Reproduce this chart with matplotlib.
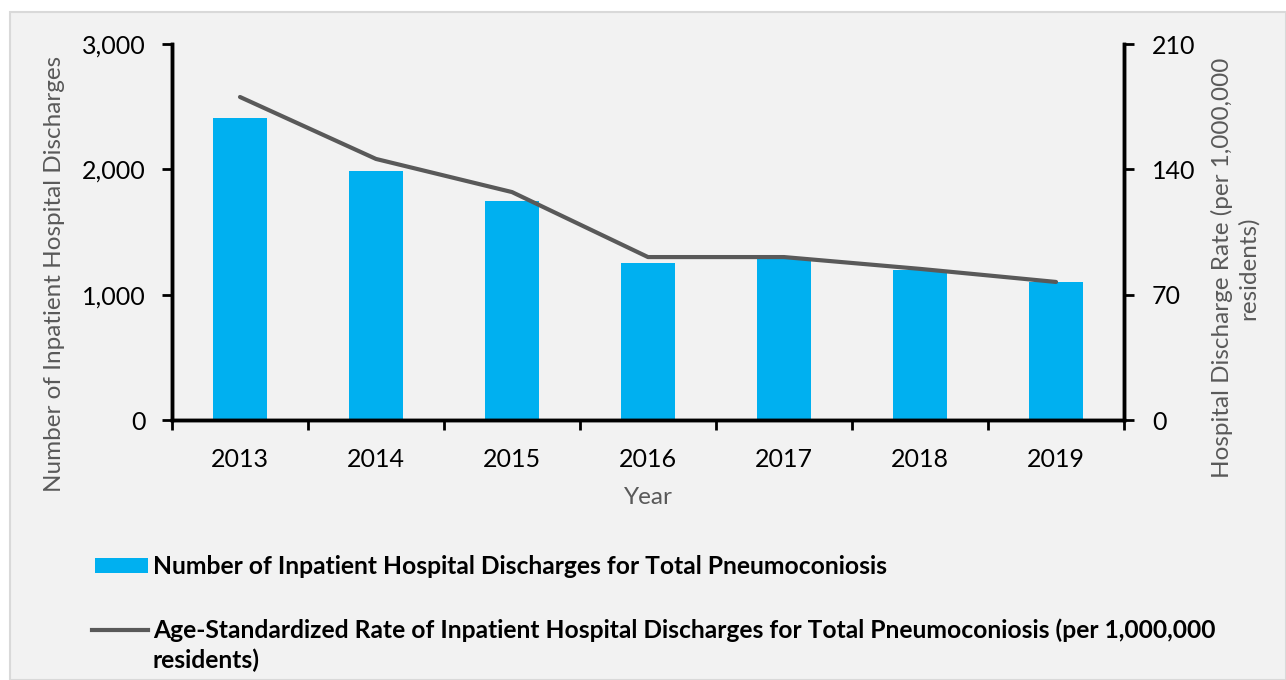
import matplotlib.pyplot as plt
from matplotlib.patches import Rectangle
from matplotlib.lines import Line2D
from matplotlib.ticker import FuncFormatter

plt.rcParams['font.family'] = ['Lato', 'DejaVu Sans']

# data
years = ['2013', '2014', '2015', '2016', '2017', '2018', '2019']
discharges = [2410, 1987, 1747, 1253, 1293, 1197, 1101]
rate = [180.4, 145.8, 127.3, 91.0, 91.0, 84.4, 77.1]

bar_color = '#00B0F0'
line_color = '#595959'
gray_txt = '#595959'

fig = plt.figure(figsize=(12.86, 6.8), dpi=100)
fig.patch.set_facecolor('white')
# light gray panel like the excel chart area
fig.patches.append(Rectangle((10 / 1286, 0), 1 - 10 / 1286, (680 - 12) / 680,
                             transform=fig.transFigure, facecolor='#f2f2f2',
                             edgecolor='#d9d9d9', linewidth=1.5, zorder=-10))

ax = fig.add_axes([172 / 1286, (680 - 420) / 680, (1124 - 172) / 1286, 376 / 680])
ax.set_facecolor('none')
ax2 = ax.twinx()

x = list(range(len(years)))
ax.bar(x, discharges, width=0.4, color=bar_color, zorder=2)
ax2.plot(x, rate, color=line_color, linewidth=3, solid_capstyle='round')

ax.set_xlim(-0.5, len(years) - 0.5)
ax.set_ylim(0, 3000)
ax.set_yticks([0, 1000, 2000, 3000])
ax.yaxis.set_major_formatter(FuncFormatter(lambda v, p: f'{int(v):,}'))
ax2.set_ylim(0, 210)
ax2.set_yticks([0, 70, 140, 210])

# excel style: ticks between categories, labels centred
ax.set_xticks([i - 0.5 for i in range(len(years) + 1)])
ax.set_xticklabels([])
ax.set_xticks(x, minor=True)
ax.set_xticklabels(years, minor=True)
ax.tick_params(axis='x', which='minor', length=0, labelsize=18, pad=20)
ax.tick_params(axis='x', which='major', length=7, width=2, direction='out')
ax.tick_params(axis='y', length=7, width=2, labelsize=18, pad=12)
ax2.tick_params(axis='y', length=7, width=2, labelsize=18, pad=13)

for a in (ax, ax2):
    a.spines['top'].set_visible(False)
    for s in ('left', 'right', 'bottom'):
        a.spines[s].set_linewidth(2.5)
        a.spines[s].set_color('black')

ax.set_xlabel('Year', fontsize=17.5, color=gray_txt, labelpad=12)
ax.set_ylabel('Number of Inpatient Hospital Discharges', fontsize=17.5, color=gray_txt, labelpad=12)
ax2.set_ylabel('Hospital Discharge Rate (per 1,000,000\nresidents)', fontsize=17.5,
               color=gray_txt, labelpad=11.5, linespacing=1.2)
# excel centres the titles a bit lower than the plot middle
ax.yaxis.label.set_y(0.388)
ax2.yaxis.label.set_y(0.404)

# legend drawn by hand so the key lines up with the first text line
fig.patches.append(Rectangle((95 / 1286, 1 - 573 / 680), 53 / 1286, 15 / 680,
                             transform=fig.transFigure, facecolor=bar_color, edgecolor='none'))
fig.text(153 / 1286, 1 - 566 / 680, 'Number of Inpatient Hospital Discharges for Total Pneumoconiosis',
         fontsize=17.7, fontweight='bold', va='center', ha='left')
fig.lines.append(Line2D([92 / 1286, 148 / 1286], [1 - 630 / 680, 1 - 630 / 680],
                        transform=fig.transFigure, color=line_color, linewidth=3))
fig.text(153 / 1286, 1 - 630 / 680,
         'Age-Standardized Rate of Inpatient Hospital Discharges for Total Pneumoconiosis (per 1,000,000',
         fontsize=17.7, fontweight='bold', va='center', ha='left')
fig.text(153 / 1286, 1 - 660 / 680, 'residents)',
         fontsize=17.7, fontweight='bold', va='center', ha='left')

fig.savefig('out.png', dpi=100)
